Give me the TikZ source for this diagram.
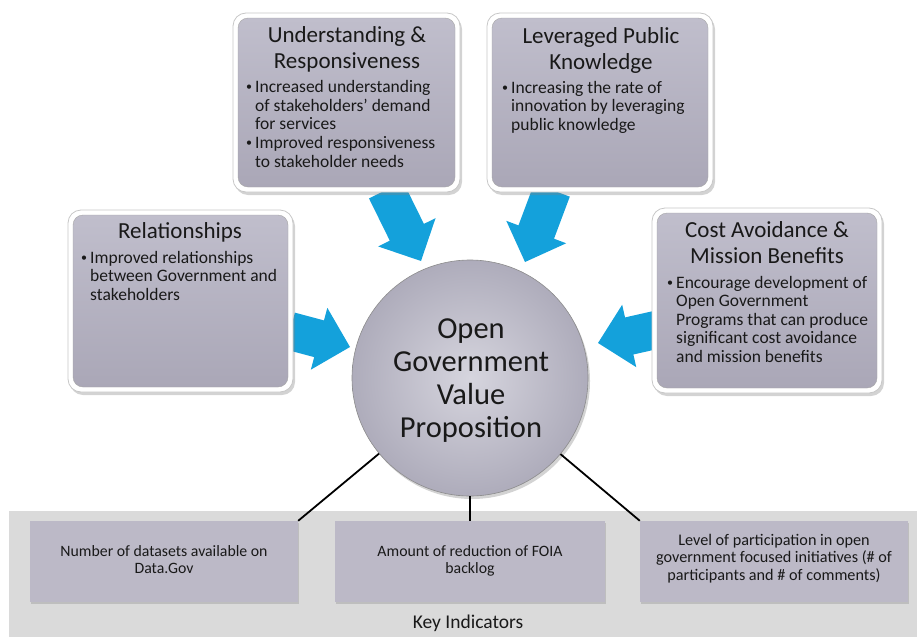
\documentclass[tikz,border=0pt]{standalone}
\usepackage{fontspec}
\setmainfont{Carlito}
\usetikzlibrary{shadows,calc}
\definecolor{arrowblue}{RGB}{20,161,219}
\definecolor{cardtop}{RGB}{192,190,204}
\definecolor{cardbot}{RGB}{170,167,183}
\definecolor{bandgray}{RGB}{218,218,218}
\definecolor{indfill}{RGB}{188,185,199}
\definecolor{txt}{RGB}{25,25,25}
\definecolor{circin}{RGB}{214,213,222}
\definecolor{circout}{RGB}{174,172,187}
\newcommand\bul[2]{\makebox[9pt][l]{\raisebox{1.6pt}{\fontsize{12}{12}\selectfont\textbullet}}\parbox[t]{#1}{\raggedright #2}}
\newcommand\blockarrow[3]{%
  \fill[arrowblue] ($(#1)!19pt!90:(#2)$) -- ($(#3)!19pt!-90:(#1)$) -- ($(#3)!32pt!-90:(#1)$) -- (#2)
    -- ($(#3)!32pt!90:(#1)$) -- ($(#3)!19pt!90:(#1)$) -- ($(#1)!19pt!-90:(#2)$) -- cycle;}
\tikzset{
  card/.style={rectangle, rounded corners=13pt, fill=white, draw=black!22, line width=0.8pt, inner sep=0pt,
    drop shadow={shadow xshift=2pt, shadow yshift=-3pt, opacity=0.35}},
  cardin/.style={rectangle, rounded corners=10pt, top color=cardtop, bottom color=cardbot, draw=black!35, line width=0.4pt, inner sep=0pt},
  cardtitle/.style={font=\fontsize{23}{25.5}\selectfont, text=txt, align=center, anchor=base, inner sep=0pt},
  cardbody/.style={font=\fontsize{17.5}{18.6}\selectfont, text=txt, align=left, anchor=base west, inner sep=0pt},
  indbox/.style={rectangle, fill=indfill, inner sep=0pt, minimum height=81pt, text=txt, align=center,
    drop shadow={shadow xshift=1pt, shadow yshift=-2pt, opacity=0.3}},
  indtext/.style={text=txt, align=center, anchor=base, inner sep=0pt},
  conn/.style={draw=black, line width=1.8pt},
}
\begin{document}
\begin{tikzpicture}[x=1pt, y=-1pt]
\useasboundingbox (0,0) rectangle (917,637);
% key indicator band
\fill[bandgray] (9,511) rectangle (917,637);
\node[indbox, minimum width=268pt] (ind1) at (164,561.5) {};
\node[indbox, minimum width=270pt] (ind2) at (470,561.5) {};
\node[indbox, minimum width=268pt] (ind3) at (774,561.5) {};
\node[indtext, font=\fontsize{15.8}{16.5}\selectfont] (ind1t) at (164,573) {Number of datasets available on\\Data.Gov};
\node[indtext, font=\fontsize{15.8}{16.5}\selectfont] (ind2t) at (470,573) {Amount of reduction of FOIA\\backlog};
\node[indtext, font=\fontsize{16.2}{17.5}\selectfont] (ind3t) at (774,580) {Level of participation in open\\government focused initiatives (\# of\\participants and \# of comments)};
\node[font=\fontsize{19.5}{20}\selectfont, text=txt, anchor=base, inner sep=0pt] (keyind) at (468,628) {Key Indicators};
% centre circle position
\coordinate (ctr) at (470,378);
% arrows
\coordinate (a1s) at (290,331); \coordinate (a1t) at (350,347);
\coordinate (a1h) at ($(a1t)!32pt!(a1s)$);
\blockarrow{a1s}{a1t}{a1h}
\coordinate (a2s) at (386,190); \coordinate (a2t) at (421,261);
\coordinate (a2h) at ($(a2t)!32pt!(a2s)$);
\blockarrow{a2s}{a2t}{a2h}
\coordinate (a3s) at (552,190); \coordinate (a3t) at (525,262);
\coordinate (a3h) at ($(a3t)!32pt!(a3s)$);
\blockarrow{a3s}{a3t}{a3h}
\coordinate (a4s) at (660,329); \coordinate (a4t) at (598,343);
\coordinate (a4h) at ($(a4t)!32pt!(a4s)$);
\blockarrow{a4s}{a4t}{a4h}
% circle
\node[circle, minimum size=236pt, inner sep=0pt, draw=black!45, line width=0.6pt,
  inner color=circin, outer color=circout,
  drop shadow={shadow xshift=2pt, shadow yshift=-3pt, opacity=0.35}] (ogv) at (ctr) {};
\node[font=\fontsize{30.5}{33}\selectfont, text=txt, align=center, anchor=base, inner sep=0pt] (ogvt) at (471,437) {Open\\Government\\Value\\Proposition};
\draw[conn] (ogv) -- (ind1.north east);
\draw[conn] (ogv) -- (ind2.north);
\draw[conn] (ogv) -- (ind3.north west);
% cards
\node[card, minimum width=227pt, minimum height=179pt] (und) at (346.5,102.5) {};
\node[cardin, minimum width=217pt, minimum height=169pt] (undin) at (und.center) {};
\node[cardtitle] (undt) at (347,68) {Understanding \&\\Responsiveness};
\node[cardbody] (undb1) at (246,92.5) {\bul{200pt}{Increased understanding\\of stakeholders’ demand\\for services}};
\node[cardbody] (undb2) at (246,148.5) {\bul{200pt}{Improved responsiveness\\to stakeholder needs}};

\node[card, minimum width=226pt, minimum height=179pt] (lev) at (600,102.5) {};
\node[cardin, minimum width=216pt, minimum height=169pt] (levin) at (lev.center) {};
\node[cardtitle] (levt) at (601,69) {Leveraged Public\\Knowledge};
\node[cardbody] (levb) at (502,93) {\bul{200pt}{Increasing the rate of\\innovation by leveraging\\public knowledge}};

\node[card, minimum width=225pt, minimum height=182pt] (rel) at (180.5,301) {};
\node[cardin, minimum width=215pt, minimum height=172pt] (relin) at (rel.center) {};
\node[cardtitle] (relt) at (180,238) {Relationships};
\node[cardbody] (relb) at (81,263) {\bul{200pt}{Improved relationships\\between Government and\\stakeholders}};

\node[card, minimum width=230pt, minimum height=185pt] (cost) at (767,300.5) {};
\node[cardin, minimum width=220pt, minimum height=175pt] (costin) at (cost.center) {};
\node[cardtitle] (costt) at (767,263) {Cost Avoidance \&\\Mission Benefits};
\node[cardbody] (costb) at (667,288) {\bul{200pt}{Encourage development of\\Open Government\\Programs that can produce\\significant cost avoidance\\and mission benefits}};
\end{tikzpicture}
\end{document}
